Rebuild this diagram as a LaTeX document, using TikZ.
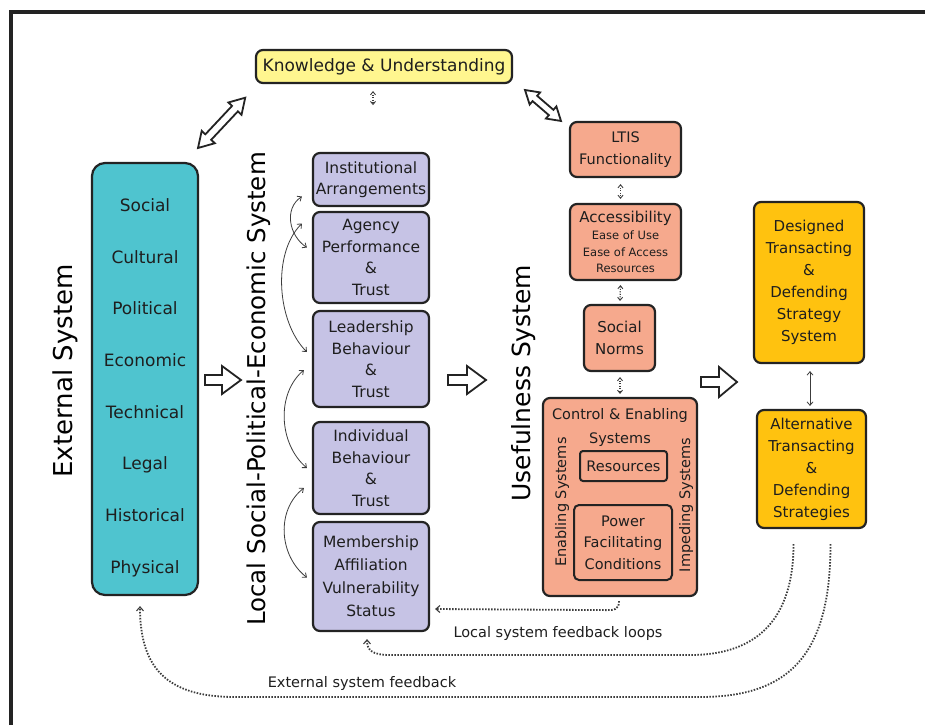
\documentclass[tikz,border=0pt]{standalone}
\usepackage{fontspec}
\setmainfont{DejaVu Sans}
\usetikzlibrary{arrows.meta,calc}
\definecolor{bord}{RGB}{35,35,35}
\definecolor{txt}{RGB}{30,30,30}
\definecolor{tealb}{HTML}{4FC4CF}
\definecolor{lav}{HTML}{C6C3E5}
\definecolor{salm}{HTML}{F6A98D}
\definecolor{yel}{HTML}{FFF68F}
\definecolor{orng}{HTML}{FFC20F}
\definecolor{arr}{RGB}{60,60,60}
\newcommand{\myfs}[2]{\fontsize{#1}{#2}\selectfont}
\begin{document}
\begin{tikzpicture}[x=1pt,y=-1pt,
  box/.style={draw=bord, line width=2.2pt, rounded corners=7pt, align=center, inner sep=0pt, text=txt},
  itemtxt/.style={anchor=base, text=txt, font=\myfs{17}{20}, inner sep=0pt},
  vtitle/.style={anchor=base, rotate=90, text=black, inner sep=0pt},
  hollow/.style={draw=bord, line width=1.8pt, fill=white, line join=miter},
  thinarr/.style={draw=arr, line width=0.8pt, {Straight Barb[length=3.5pt,width=6pt]}-{Straight Barb[length=3.5pt,width=6pt]}},
  dotsmall/.style={draw=arr, line width=1.2pt, dash pattern=on 1.1pt off 1.4pt, {Straight Barb[length=3pt,width=5pt,line width=0.9pt]}-{Straight Barb[length=3pt,width=5pt,line width=0.9pt]}},
  fb/.style={draw=arr, line width=1.8pt, dash pattern=on 1.5pt off 1.5pt, -{Straight Barb[length=4pt,width=7pt,line width=1.1pt]}},
  fbtxt/.style={anchor=base, text=txt, font=\myfs{14.5}{17}, inner sep=0pt}
]
\useasboundingbox (0,0) rectangle (925,725);
\fill[white] (0,0) rectangle (925,725);
% frame
\draw[bord, line width=4pt] (11,725) -- (11,12) -- (925,12);

% Knowledge
\node[box, fill=yel, minimum width=256pt, minimum height=33pt, font=\myfs{17}{20}] (know) at (384,66.5) {Knowledge \& Understanding};

% External system
\node[box, fill=tealb, rounded corners=13pt, minimum width=106pt, minimum height=432pt] (ext) at (145,379) {};
\foreach \t/\yy [count=\i] in {Social/211, Cultural/263, Political/314, Economic/366, Technical/418, Legal/469, Historical/521, Physical/573}
  \node[itemtxt] (e\i) at (145,\yy) {\t};
\node[vtitle, font=\myfs{26}{30}] (exttitle) at (72,371) {External System};

% Local system
\tikzset{pbox/.style={box, fill=lav, minimum width=116pt, font=\myfs{15.5}{21.5}}}
\node[pbox, minimum height=53pt] (inst) at (371,179.5) {Institutional\\Arrangements};
\node[pbox, minimum height=91pt] (agency) at (371,257.5) {Agency\\Performance\\\&\\Trust};
\node[pbox, minimum height=96pt] (lead) at (371,359) {Leadership\\Behaviour\\\&\\Trust};
\node[pbox, minimum height=92pt] (indiv) at (371,468) {Individual\\Behaviour\\\&\\Trust};
\node[pbox, minimum height=109pt, font=\myfs{15.5}{23}] (memb) at (371,576.5) {Membership\\Affiliation\\Vulnerability\\Status};
\node[vtitle, font=\myfs{24.5}{28}] (loctitle) at (265,389) {Local Social-Political-Economic System};

% curved arrows
\draw[thinarr] ($(inst.west)+(-10,17)$) .. controls +(-18,12) and +(-18,-12) .. ($(agency.west)+(-5,-10)$);
\draw[thinarr] ($(agency.west)+(-10,-34)$) .. controls +(-30,30) and +(-30,-30) .. ($(lead.west)+(-5,-7)$);
\draw[thinarr] ($(lead.west)+(-8,11)$) .. controls +(-28,24) and +(-28,-24) .. ($(indiv.west)+(-5,0)$);
\draw[thinarr] ($(indiv.west)+(-8,20)$) .. controls +(-28,22) and +(-28,-22) .. ($(memb.west)+(-5,1)$);

% Usefulness system
\tikzset{sbox/.style={box, fill=salm, font=\myfs{14.5}{22.5}}}
\node[sbox, minimum width=111pt, minimum height=55pt] (ltis) at (625.5,149.5) {LTIS\\Functionality};
\node[sbox, minimum width=111pt, minimum height=76pt, font=\myfs{15}{16.5}] (access) at (625.5,242) {Accessibility\\[0.5pt]{\myfs{11.5}{16.5}Ease of Use}\\{\myfs{11.5}{16.5}Ease of Access}\\{\myfs{11.5}{16.5}Resources}};
\node[sbox, minimum width=71pt, minimum height=66pt, font=\myfs{15}{21.5}] (norms) at (619.5,338) {Social\\Norms};
\node[sbox, minimum width=154pt, minimum height=198pt] (ctrl) at (620,497) {};
\node[inner sep=0pt, align=center, text=txt, font=\myfs{14.5}{24}] (ctrltxt) at (620,427) {Control \& Enabling\\Systems};
\node[box, fill=salm, line width=2pt, rounded corners=3pt, minimum width=87pt, minimum height=30pt, font=\myfs{14.5}{20}] (res) at (623.5,466) {Resources};
\node[box, fill=salm, line width=2pt, rounded corners=5pt, minimum width=98pt, minimum height=75pt, font=\myfs{14.5}{21.5}] (power) at (623,542.5) {Power\\Facilitating\\Conditions};
\node[vtitle, text=txt, font=\myfs{14.5}{17}] (enab) at (566,502) {Enabling Systems};
\node[vtitle, text=txt, font=\myfs{14.5}{17}] (imped) at (690,505) {Impeding Systems};
\node[vtitle, font=\myfs{25}{29}] (usetitle) at (530,383) {Usefulness System};

\draw[dotsmall] ($(ltis.south)+(-5,6)$) -- ($(access.north)+(-5,-4)$);
\draw[dotsmall] ($(access.south)+(-5,4)$) -- ($(norms.north)+(0.5,-3)$);
\draw[dotsmall] ($(norms.south)+(0.5,5)$) -- ($(ctrl.north)+(0,-3)$);
\draw[dotsmall] ($(know.south)+(-11,7)$) -- ($(know.south)+(-11,21)$);

% Strategy system
\tikzset{obox/.style={box, fill=orng, font=\myfs{15}{22}}}
\node[obox, minimum width=110pt, minimum height=161pt] (designed) at (809,282.5) {Designed\\Transacting\\\&\\Defending\\Strategy\\System};
\node[obox, minimum width=109pt, minimum height=118pt] (alt) at (811.5,469) {Alternative\\Transacting\\\&\\Defending\\Strategies};
\draw[thinarr] ($(designed.south)+(1,7)$) -- ($(alt.north)+(-1.5,-3)$);

% hollow block arrows
\draw[hollow] (205,375) -- (222,375) -- (222,366) -- (241,380) -- (222,394) -- (222,385) -- (205,385) -- cycle;
\draw[hollow] (448,375) -- (467,375) -- (467,366) -- (486,380) -- (467,394) -- (467,385) -- (448,385) -- cycle;
\draw[hollow] (701,377) -- (719,377) -- (719,367) -- (737,382) -- (719,397) -- (719,387) -- (701,387) -- cycle;
\draw[hollow, shift={(198,148)}, rotate=46.8] (0,0) -- (15,9) -- (15,4) -- (54,4) -- (54,9) -- (69,0) -- (54,-9) -- (54,-4) -- (15,-4) -- (15,-9) -- cycle;
\draw[hollow, shift={(525,90)}, rotate=-40.7] (0,0) -- (13,8) -- (13,3.5) -- (34.5,3.5) -- (34.5,8) -- (47.5,0) -- (34.5,-8) -- (34.5,-3.5) -- (13,-3.5) -- (13,-8) -- cycle;

% feedback loops
\draw[fb] ($(ctrl.south)+(-1,4)$) .. controls +(0,9) and +(8,0) .. ($(ctrl.south)+(-14,13)$) -- ($(memb.east)+(5,32.5)$);
\node[fbtxt] (loclab) at (558,637) {Local system feedback loops};
\draw[fb] ($(alt.south)+(-18,15)$) .. controls +(0,72) and +(70,0) .. (690,655) -- (390,655) .. controls (372,655) and (367,650) .. ($(memb.south)+(-4,7)$);
\draw[fb] ($(alt.south)+(19,15)$) .. controls +(0,110) and +(90,0) .. (700,697) -- (235,697) .. controls (165,697) and ($(ext.south)+(-5,70)$) .. ($(ext.south)+(-5,10)$);
\node[fbtxt] (extlab) at (362,687) {External system feedback};
\end{tikzpicture}
\end{document}
